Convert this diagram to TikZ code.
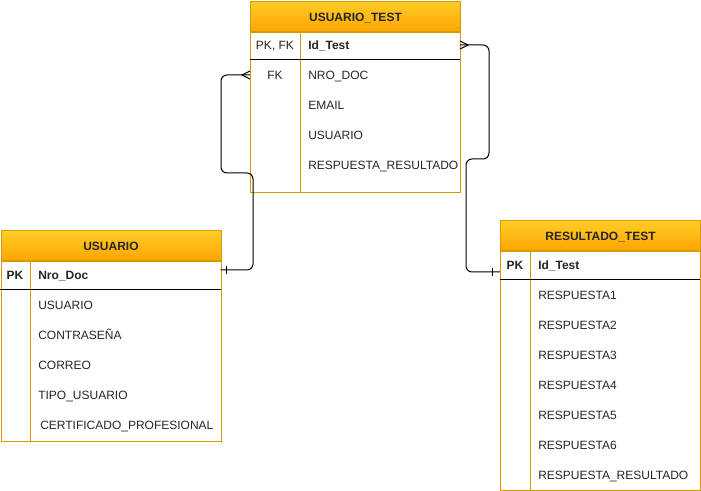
\documentclass[tikz,border=0pt]{standalone}
\usepackage{fontspec}
\setmainfont{Liberation Sans}
\usepackage{tikz}
\definecolor{hdrtop}{HTML}{FFCD28}
\definecolor{hdrbot}{HTML}{FFA500}
\definecolor{tblline}{HTML}{D79B00}
\tikzstyle{tblhead}=[draw=tblline, line width=0.75pt, top color=hdrtop, bottom color=hdrbot, inner sep=0pt, minimum height=22.5pt, text height=1.6ex, text depth=0.3ex, font=\fontsize{9}{11}\selectfont\bfseries, text=black!85]
\tikzstyle{tblbody}=[draw=tblline, line width=0.75pt, fill=white, inner sep=0pt]
\tikzstyle{field}=[anchor=west, inner sep=0pt, text height=1.6ex, text depth=0.3ex, text=black!85]
\tikzstyle{keytext}=[inner sep=0pt, text height=1.6ex, text depth=0.3ex, text=black!85]
\tikzstyle{keycol}=[draw=tblline, line width=0.75pt]
\tikzstyle{rel}=[line width=0.75pt, rounded corners=4.5pt]

\begin{document}
\begin{tikzpicture}[x=0.75pt, y=-0.75pt, font=\fontsize{9}{11}\selectfont]
        \useasboundingbox (0,0) rectangle (701,491);
        % USUARIO_TEST
        \node[tblhead, minimum width=157.5pt, anchor=north west] (ut-head) at (250,1) {USUARIO\_TEST};
        \node[tblbody, minimum width=157.5pt, minimum height=120pt, anchor=north] (ut-body) at (ut-head.south) {};
        \draw[keycol] ([xshift=37.5pt]ut-body.north west) -- ([xshift=37.5pt]ut-body.south west);
        \draw[line width=0.75pt] (250,60) -- (460,60);
        \node[keytext] (ut-k1) at (275,45) {PK, FK};
        \node[keytext] (ut-k2) at (275,75) {FK};
        \node[field, font=\fontsize{9}{11}\selectfont\bfseries] (ut-f1) at (308,45) {Id\_Test};
        \node[field] (ut-f2) at (308,75) {NRO\_DOC};
        \node[field] (ut-f3) at (308,105) {EMAIL};
        \node[field] (ut-f4) at (308,135) {USUARIO};
        \node[field] (ut-f5) at (308,165) {RESPUESTA\_RESULTADO};
        % USUARIO
        \node[tblhead, minimum width=165pt, anchor=north west] (us-head) at (0.5,230) {USUARIO};
        \node[tblbody, minimum width=165pt, minimum height=135pt, anchor=north] (us-body) at (us-head.south) {};
        \draw[keycol] ([xshift=22.5pt]us-body.north west) -- ([xshift=22.5pt]us-body.south west);
        \draw[line width=0.75pt] (0.5,290) -- (220.5,290);
        \node[keytext, font=\fontsize{9}{11}\selectfont\bfseries] (us-k1) at (15,275) {PK};
        \node[field, font=\fontsize{9}{11}\selectfont\bfseries] (us-f1) at (38,275) {Nro\_Doc};
        \node[field] (us-f2) at (38,305) {USUARIO};
        \node[field] (us-f3) at (38,335) {CONTRASEÑA};
        \node[field] (us-f4) at (38,365) {CORREO};
        \node[field] (us-f5) at (38,395) {TIPO\_USUARIO};
        \node[field] (us-f6) at (40,425) {CERTIFICADO\_PROFESIONAL};
        % RESULTADO_TEST
        \node[tblhead, minimum width=150pt, anchor=north west] (rt-head) at (500,220) {RESULTADO\_TEST};
        \node[tblbody, minimum width=150pt, minimum height=179.25pt, anchor=north] (rt-body) at (rt-head.south) {};
        \draw[keycol] ([xshift=22.5pt]rt-body.north west) -- ([xshift=22.5pt]rt-body.south west);
        \draw[line width=0.75pt] (500,280) -- (700,280);
        \node[keytext, font=\fontsize{9}{11}\selectfont\bfseries] (rt-k1) at (515,265) {PK};
        \node[field, font=\fontsize{9}{11}\selectfont\bfseries] (rt-f1) at (538,265) {Id\_Test};
        \foreach \i in {1,...,6}
            \node[field] (rt-f\i) at (538,265+30*\i) {RESPUESTA\i};
        \node[field] (rt-f7) at (538,475) {RESPUESTA\_RESULTADO};
        % relations
        \coordinate (ut-fkport) at (250,75);
        \coordinate (ut-idport) at (460,45);
        \coordinate (us-pkport) at (220.5,270);
        \coordinate (rt-pkport) at (500,272);
        \draw[rel] (ut-fkport) -- ++(-29,0) -- ++(0,98) -- ++(32,0) |- (us-pkport);
        \draw[rel] (ut-idport) -- ++(29,0) -- ++(0,114) -- ++(-23,0) |- (rt-pkport);
        \draw[line width=0.75pt] (ut-fkport) ++(0,-4) -- ++(-8,4) -- ++(8,4);
        \draw[line width=0.75pt] (ut-idport) ++(0,-4) -- ++(8,4) -- ++(-8,4);
        \draw[line width=0.75pt] (us-pkport) ++(6,-4) -- ++(0,8);
        \draw[line width=0.75pt] (rt-pkport) ++(-8,-4) -- ++(0,8);
    \end{tikzpicture}
\end{document}
